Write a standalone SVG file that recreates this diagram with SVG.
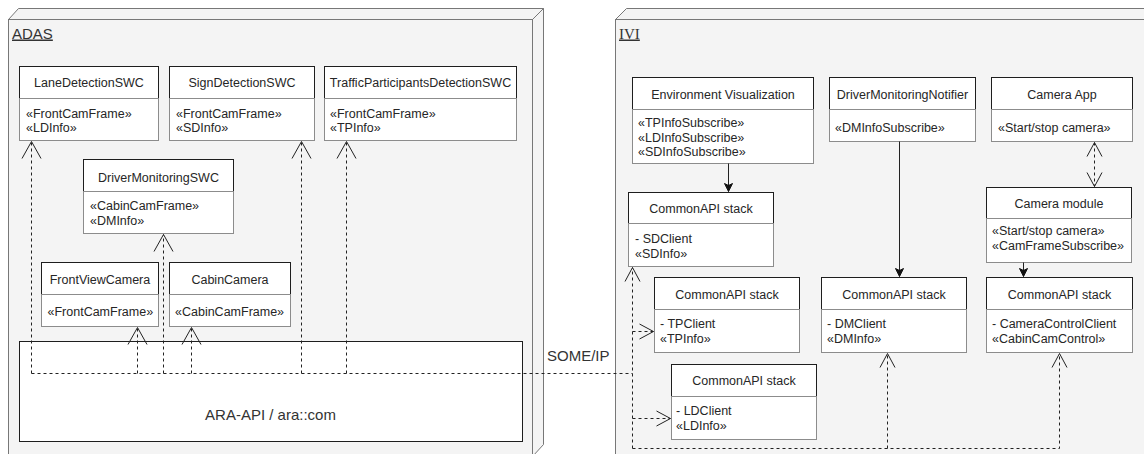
<svg xmlns="http://www.w3.org/2000/svg" width="1144" height="454" viewBox="0 0 1144 454">
  <style>
    .frame { fill:#f4f4f4; stroke:#777; stroke-width:1; }
    .hdr { fill:#fff; stroke:#1e1e1e; stroke-width:1; }
    .bdy { fill:#fff; stroke:#8c8c8c; stroke-width:1; }
    .ara { fill:#fff; stroke:#1e1e1e; stroke-width:1; }
    text { font-family:"Liberation Sans", Arial, Helvetica, sans-serif; font-size:12.5px; fill:#262626; }
    .c { text-anchor:middle; }
    .big { font-size:15px; fill:#333; }
    .lbl { text-decoration:underline; }
    .serif { font-family:"Liberation Serif", "Times New Roman", serif; }
    .dash { fill:none; stroke:#222; stroke-width:1; stroke-dasharray:3 3; }
    .solid { fill:none; stroke:#222; stroke-width:1; }
  </style>
  <defs>
    <marker id="openL" markerUnits="userSpaceOnUse" markerWidth="20" markerHeight="20" refX="0" refY="0" orient="auto" overflow="visible">
      <path d="M-17,-9.5 L0,0 L-17,9.5" fill="none" stroke="#222" stroke-width="1"/>
    </marker>
    <marker id="openS" markerUnits="userSpaceOnUse" markerWidth="16" markerHeight="16" refX="0" refY="0" orient="auto-start-reverse" overflow="visible">
      <path d="M-14,-7.5 L0,0 L-14,7.5" fill="none" stroke="#222" stroke-width="1"/>
    </marker>
    <marker id="fill" markerUnits="userSpaceOnUse" markerWidth="10" markerHeight="10" refX="0" refY="0" orient="auto" overflow="visible">
      <path d="M-8,-4 L0,0 L-8,4 L-6,0 Z" fill="#111" stroke="#111" stroke-width="1"/>
    </marker>
  </defs>

  <!-- ADAS deployment node -->
  <g id="adas">
    <polygon class="frame" points="8.5,19.5 18.5,8.5 543.5,8.5 532.5,19.5"/>
    <polygon class="frame" points="532.5,19.5 543.5,8.5 543.5,444.5 532.5,456.5"/>
    <rect class="frame" x="8.5" y="19.5" width="524" height="440"/>
    <text class="big lbl" x="12" y="38.5">ADAS</text>
  </g>

  <!-- IVI deployment node -->
  <g id="ivi">
    <polygon class="frame" points="615.5,19.5 626.5,8.5 1160,8.5 1150,19.5"/>
    <rect class="frame" x="615.5" y="19.5" width="540" height="440"/>
    <text class="big lbl serif" x="619" y="38.5">IVI</text>
  </g>

  <!-- ADAS components -->
  <g id="lane-detection-swc">
    <rect class="hdr" x="19.5" y="66.5" width="139" height="32"/>
    <rect class="bdy" x="19.5" y="98.5" width="139" height="42"/>
    <text class="c" x="89" y="86.5">LaneDetectionSWC</text>
    <text x="26" y="117.5">«FrontCamFrame»</text>
    <text x="26" y="131.5">«LDInfo»</text>
  </g>
  <g id="sign-detection-swc">
    <rect class="hdr" x="169.5" y="66.5" width="145" height="32"/>
    <rect class="bdy" x="169.5" y="98.5" width="145" height="42"/>
    <text class="c" x="242" y="86.5">SignDetectionSWC</text>
    <text x="176" y="117.5">«FrontCamFrame»</text>
    <text x="176" y="131.5">«SDInfo»</text>
  </g>
  <g id="traffic-participants-detection-swc">
    <rect class="hdr" x="324.5" y="66.5" width="192" height="32"/>
    <rect class="bdy" x="324.5" y="98.5" width="192" height="42"/>
    <text class="c" x="420.5" y="86.5">TrafficParticipantsDetectionSWC</text>
    <text x="330" y="117.5">«FrontCamFrame»</text>
    <text x="330" y="131.5">«TPInfo»</text>
  </g>
  <g id="driver-monitoring-swc">
    <rect class="hdr" x="83.5" y="159.5" width="150" height="32"/>
    <rect class="bdy" x="83.5" y="191.5" width="150" height="42"/>
    <text class="c" x="158.5" y="181.5">DriverMonitoringSWC</text>
    <text x="90" y="209.5">«CabinCamFrame»</text>
    <text x="90" y="224.5">«DMInfo»</text>
  </g>
  <g id="front-view-camera">
    <rect class="hdr" x="41.5" y="262.5" width="117" height="32"/>
    <rect class="bdy" x="41.5" y="294.5" width="117" height="32"/>
    <text class="c" x="100" y="283.5">FrontViewCamera</text>
    <text x="47.5" y="315.5">«FrontCamFrame»</text>
  </g>
  <g id="cabin-camera">
    <rect class="hdr" x="169.5" y="262.5" width="121" height="32"/>
    <rect class="bdy" x="169.5" y="294.5" width="121" height="32"/>
    <text class="c" x="230" y="283.5">CabinCamera</text>
    <text x="175" y="315.5">«CabinCamFrame»</text>
  </g>
  <g id="ara-api">
    <rect class="ara" x="19.5" y="341.5" width="503" height="100"/>
    <text class="c big" x="270.5" y="420">ARA-API / ara::com</text>
  </g>

  <!-- IVI components -->
  <g id="environment-visualization">
    <rect class="hdr" x="632.5" y="77.5" width="181" height="32"/>
    <rect class="bdy" x="632.5" y="109.5" width="181" height="54"/>
    <text class="c" x="723" y="98.5">Environment Visualization</text>
    <text x="638" y="127">«TPInfoSubscribe»</text>
    <text x="638" y="141.5">«LDInfoSubscribe»</text>
    <text x="638" y="156">«SDInfoSubscribe»</text>
  </g>
  <g id="driver-monitoring-notifier">
    <rect class="hdr" x="829.5" y="77.5" width="146" height="32"/>
    <rect class="bdy" x="829.5" y="109.5" width="146" height="32"/>
    <text class="c" x="902.5" y="98.5">DriverMonitoringNotifier</text>
    <text x="835" y="131.5">«DMInfoSubscribe»</text>
  </g>
  <g id="camera-app">
    <rect class="hdr" x="991.5" y="77.5" width="141" height="32"/>
    <rect class="bdy" x="991.5" y="109.5" width="141" height="32"/>
    <text class="c" x="1062" y="98.5">Camera App</text>
    <text x="998" y="131.5">«Start/stop camera»</text>
  </g>
  <g id="commonapi-sd">
    <rect class="hdr" x="628.5" y="192.5" width="145" height="31"/>
    <rect class="bdy" x="628.5" y="223.5" width="145" height="43"/>
    <text class="c" x="701" y="212.5">CommonAPI stack</text>
    <text x="635" y="242.5">- SDClient</text>
    <text x="635" y="257.5">«SDInfo»</text>
  </g>
  <g id="camera-module">
    <rect class="hdr" x="986.5" y="187.5" width="145" height="31"/>
    <rect class="bdy" x="986.5" y="218.5" width="145" height="44"/>
    <text class="c" x="1059" y="207.5">Camera module</text>
    <text x="992" y="234.5">«Start/stop camera»</text>
    <text x="992" y="249.5">«CamFrameSubscribe»</text>
  </g>
  <g id="commonapi-tp">
    <rect class="hdr" x="654.5" y="277.5" width="145" height="32"/>
    <rect class="bdy" x="654.5" y="309.5" width="145" height="43"/>
    <text class="c" x="727" y="298.5">CommonAPI stack</text>
    <text x="660" y="327.5">- TPClient</text>
    <text x="660" y="342.5">«TPInfo»</text>
  </g>
  <g id="commonapi-dm">
    <rect class="hdr" x="821.5" y="277.5" width="145" height="32"/>
    <rect class="bdy" x="821.5" y="309.5" width="145" height="43"/>
    <text class="c" x="894" y="298.5">CommonAPI stack</text>
    <text x="827" y="327.5">- DMClient</text>
    <text x="827" y="342.5">«DMInfo»</text>
  </g>
  <g id="commonapi-camera">
    <rect class="hdr" x="986.5" y="277.5" width="146" height="32"/>
    <rect class="bdy" x="986.5" y="309.5" width="146" height="43"/>
    <text class="c" x="1059.5" y="298.5">CommonAPI stack</text>
    <text x="992" y="327.5">- CameraControlClient</text>
    <text x="992" y="342.5">«CabinCamControl»</text>
  </g>
  <g id="commonapi-ld">
    <rect class="hdr" x="671.5" y="364.5" width="145" height="32"/>
    <rect class="bdy" x="671.5" y="396.5" width="145" height="43"/>
    <text class="c" x="744" y="385">CommonAPI stack</text>
    <text x="676" y="415">- LDClient</text>
    <text x="676" y="430">«LDInfo»</text>
  </g>

  <!-- Connectors -->
  <g id="connectors">
    <!-- SOME/IP bus between ara::com and CommonAPI -->
    <path class="dash" d="M31.5,373.5 H632.5"/>
    <text class="big" x="547" y="360.5">SOME/IP</text>
    <path class="dash" d="M31.5,373.5 V141.5" marker-end="url(#openL)"/>
    <path class="dash" d="M137.5,373.5 V327.5" marker-end="url(#openL)"/>
    <path class="dash" d="M163.5,373.5 V234.5" marker-end="url(#openL)"/>
    <path class="dash" d="M191.5,373.5 V327.5" marker-end="url(#openL)"/>
    <path class="dash" d="M301.5,373.5 V141.5" marker-end="url(#openL)"/>
    <path class="dash" d="M346.5,373.5 V141.5" marker-end="url(#openL)"/>

    <path class="dash" d="M632.5,448.5 V267.5" marker-end="url(#openS)"/>
    <path class="dash" d="M632.5,331.5 H653.5" marker-end="url(#openS)"/>
    <path class="dash" d="M632.5,418.5 H670.5" marker-end="url(#openS)"/>
    <path class="dash" d="M632.5,448.5 H1059.5 V353.5" marker-end="url(#openS)"/>
    <path class="dash" d="M887.5,448.5 V353.5" marker-end="url(#openS)"/>
    <path class="dash" d="M1094.5,142.5 V186.5" marker-start="url(#openS)" marker-end="url(#openS)"/>

    <path class="solid" d="M728.5,163.5 V191.5" marker-end="url(#fill)"/>
    <path class="solid" d="M899.5,141.5 V276.5" marker-end="url(#fill)"/>
    <path class="solid" d="M1023.5,262.5 V276.5" marker-end="url(#fill)"/>
  </g>
</svg>
